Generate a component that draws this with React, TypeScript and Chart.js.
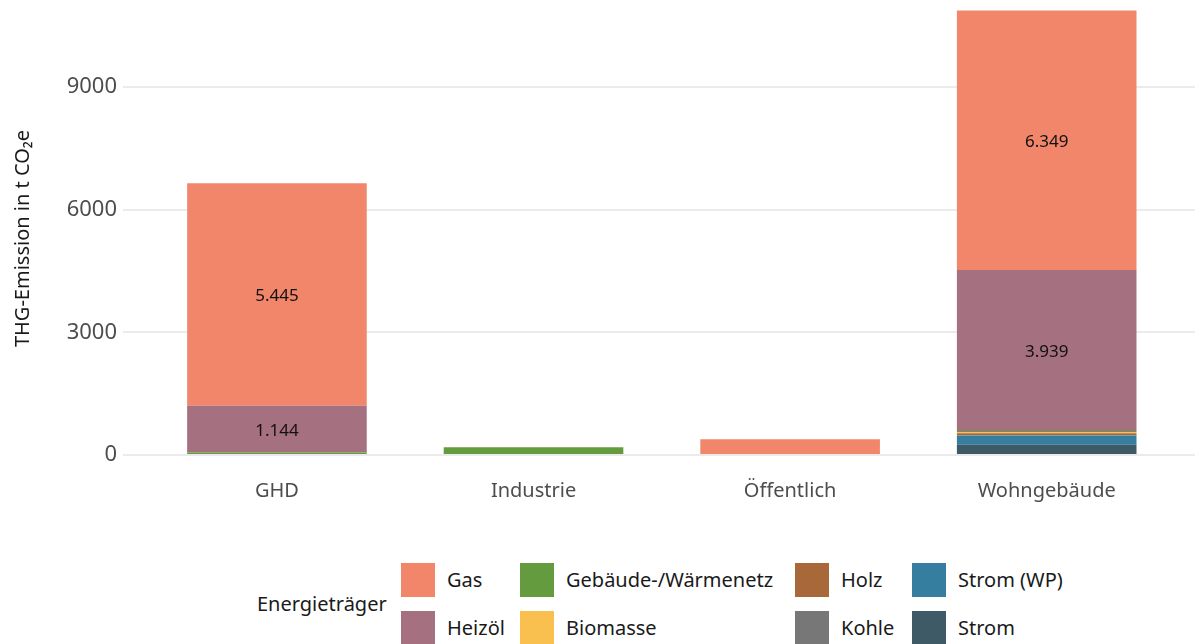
import React, { useEffect, useRef } from 'react';
import { Chart, registerables } from 'chart.js';

Chart.register(...registerables);

// ---- data ----
const categories = ['GHD', 'Industrie', 'Öffentlich', 'Wohngebäude'];
const yTicks = [0, 3000, 6000, 9000];

// values per category (GHD, Industrie, Öffentlich, Wohngebäude) in t CO2e
const gas = [5445, 0, 385, 6349];
const heizoel = [1144, 0, 0, 3939];
const waermenetz = [35, 190, 0, 25];
const biomasse = [0, 0, 0, 30];
const holz = [0, 0, 0, 45];
const kohle = [0, 0, 0, 5];
const stromWP = [25, 0, 0, 230];
const strom = [0, 0, 0, 250];

// legend order (top of stack first)
const carriers = ['Gas', 'Heizöl', 'Gebäude-/Wärmenetz', 'Biomasse', 'Holz', 'Kohle', 'Strom (WP)', 'Strom'];
const carrierValues = [gas, heizoel, waermenetz, biomasse, holz, kohle, stromWP, strom];
const carrierColors = ['#F1866A', '#A5707F', '#659B3F', '#F9C04F', '#A9683A', '#777777', '#367E9F', '#3E5A66'];

const FONT = '"Noto Sans", "DejaVu Sans", sans-serif';

const fmt = (v: number) => String(Math.round(v)).replace(/\B(?=(\d{3})+(?!\d))/g, '.');

const segmentLabels = {
  id: 'segmentLabels',
  afterDatasetsDraw(chart: any) {
    const ctx = chart.ctx;
    ctx.save();
    ctx.font = `17px ${FONT}`;
    ctx.fillStyle = '#111111';
    ctx.textAlign = 'center';
    ctx.textBaseline = 'middle';
    chart.data.datasets.forEach((ds: any, di: number) => {
      const meta = chart.getDatasetMeta(di);
      meta.data.forEach((el: any, i: number) => {
        const v = ds.data[i].y;
        if (v >= 1000) {
          const p = el.getProps(['x', 'y', 'base'], true);
          ctx.fillText(fmt(v), p.x, (p.y + p.base) / 2 + 2);
        }
      });
    });
    ctx.restore();
  },
};

function Legend() {
  const boxX = [401, 520, 795, 912];
  const rowY = [563, 611];
  return (
    <>
      <div
        style={{
          position: 'absolute',
          left: 257,
          top: 592,
          fontFamily: FONT,
          fontSize: 20,
          lineHeight: '24px',
          color: '#1a1a1a',
          whiteSpace: 'nowrap',
        }}
      >
        Energieträger
      </div>
      {carriers.map((name, i) => {
        const col = Math.floor(i / 2);
        const row = i % 2;
        return (
          <div
            key={name}
            style={{
              position: 'absolute',
              left: boxX[col],
              top: rowY[row],
              height: 34,
              display: 'flex',
              alignItems: 'center',
              whiteSpace: 'nowrap',
            }}
          >
            <div style={{ width: 34, height: 34, background: carrierColors[i] }} />
            <div
              style={{
                marginLeft: 12,
                fontFamily: FONT,
                fontSize: 20,
                lineHeight: '24px',
                color: '#1a1a1a',
              }}
            >
              {name}
            </div>
          </div>
        );
      })}
    </>
  );
}

export default function App() {
  const canvasRef = useRef<HTMLCanvasElement | null>(null);

  useEffect(() => {
    if (!canvasRef.current) return;
    // stack order: bottom first
    const stackOrder = [...carriers.keys()].reverse();
    const datasets = stackOrder.map((ci) => ({
      label: carriers[ci],
      data: categories.map((_, k) => ({ x: k + 1, y: carrierValues[ci][k] })),
      backgroundColor: carrierColors[ci],
      borderWidth: 0,
      categoryPercentage: 1,
      barPercentage: 0.7,
    }));

    const chart = new Chart(canvasRef.current, {
      type: 'bar',
      data: { datasets },
      plugins: [segmentLabels],
      options: {
        animation: false,
        responsive: true,
        maintainAspectRatio: false,
        layout: { padding: 0 },
        plugins: { legend: { display: false }, tooltip: { enabled: false } },
        scales: {
          x: {
            type: 'linear',
            stacked: true,
            min: 0.4,
            max: 4.578,
            offset: false,
            grid: { display: false, drawTicks: false },
            border: { display: false },
            afterBuildTicks: (s: any) => {
              s.ticks = categories.map((_, k) => ({ value: k + 1 }));
            },
            ticks: {
              padding: 2,
              color: '#4d4d4d',
              font: { family: FONT, size: 20 },
              callback: (v: any) => categories[Math.round(Number(v)) - 1] ?? '',
              maxRotation: 0,
              autoSkip: false,
            },
            afterFit: (s: any) => {
              s.height = 38;
              s.paddingLeft = 0;
              s.paddingRight = 0;
            },
          },
          y: {
            stacked: true,
            min: -538,
            max: 11128,
            grid: { color: '#EBEBEB', lineWidth: 2, drawTicks: false },
            border: { display: false },
            afterBuildTicks: (s: any) => {
              s.ticks = yTicks.map((v) => ({ value: v }));
            },
            ticks: {
              padding: 6,
              color: '#4d4d4d',
              font: { family: FONT, size: 22 },
              callback: (v: any) => String(v),
            },
            title: {
              display: true,
              text: 'THG-Emission in t CO₂e',
              color: '#1a1a1a',
              font: { family: FONT, size: 20 },
              padding: { top: 11, bottom: 0 },
            },
            afterFit: (s: any) => {
              s.width = 123;
              s.paddingTop = 0;
              s.paddingBottom = 0;
            },
          },
        },
      },
    });
    return () => chart.destroy();
  }, []);

  return (
    <div
      style={{
        position: 'absolute',
        left: 0,
        top: 0,
        width: 1195,
        height: 644,
        overflow: 'hidden',
        background: '#ffffff',
      }}
    >
      <div style={{ position: 'absolute', left: 0, top: 0, width: 1195, height: 515 }}>
        <canvas ref={canvasRef} />
      </div>
      <Legend />
    </div>
  );
}
